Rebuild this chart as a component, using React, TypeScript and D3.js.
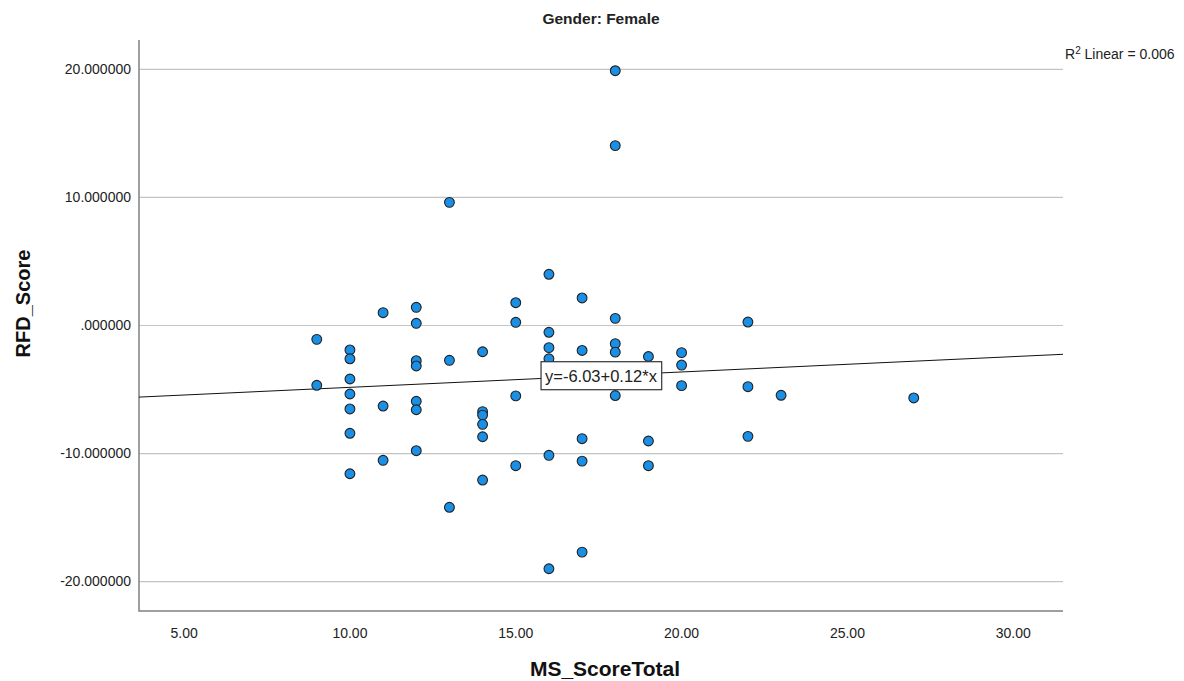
import React, { useEffect, useRef } from "react"
import * as d3 from "d3"

// MS_ScoreTotal (x) and RFD_Score (y), one entry per respondent
const msScore = [
  9, 9,
  10, 10, 10, 10, 10, 10, 10,
  11, 11, 11,
  12, 12, 12, 12, 12, 12, 12,
  13, 13, 13,
  14, 14, 14, 14, 14, 14,
  15, 15, 15, 15,
  16, 16, 16, 16, 16, 16,
  17, 17, 17, 17, 17,
  18, 18, 18, 18, 18, 18,
  19, 19, 19,
  20, 20, 20,
  22, 22, 22,
  23,
  27
]
const rfdScore = [
  -1.08, -4.67,
  -1.91, -2.6, -4.18, -5.35, -6.52, -8.42, -11.58,
  1.0, -6.29, -10.53,
  1.42, 0.17, -2.75, -3.16, -5.92, -6.58, -9.78,
  9.62, -2.72, -14.2,
  -2.05, -6.73, -7.0, -7.72, -8.69, -12.07,
  1.78, 0.25, -5.5, -10.95,
  4.0, -0.53, -1.73, -2.6, -10.14, -19.0,
  2.15, -1.95, -8.84, -10.59, -17.7,
  19.9, 14.05, 0.56, -1.42, -2.08, -5.47,
  -2.42, -9.02, -10.95,
  -2.12, -3.09, -4.7,
  0.27, -4.78, -8.66,
  -5.45,
  -5.66
]

const xTicks = [5, 10, 15, 20, 25, 30]
const xTickLabels = ["5.00", "10.00", "15.00", "20.00", "25.00", "30.00"]
const yTicks = [20, 10, 0, -10, -20]
const yTickLabels = ["20.000000", "10.000000", ".000000", "-10.000000", "-20.000000"]

// fit line y = a + b*x
const intercept = -6.03
const slope = 0.12
const fitLabel = "y=-6.03+0.12*x"
const rSquared = "0.006"

const font = "'Liberation Sans', Arial, sans-serif"

export default function App() {
  const ref = useRef<SVGSVGElement>(null)

  useEffect(() => {
    const left = 139
    const right = 1063
    const top = 40
    const bottom = 611

    const svg = d3.select(ref.current)
    svg.selectAll("*").remove()

    const x = d3.scaleLinear().domain([3.64, 31.5]).range([left, right])
    const y = d3.scaleLinear().domain([-22.3, 22.3]).range([bottom, top])

    // grid
    svg
      .append("g")
      .selectAll("line")
      .data(yTicks)
      .enter()
      .append("line")
      .attr("x1", left)
      .attr("x2", right)
      .attr("y1", d => y(d))
      .attr("y2", d => y(d))
      .attr("stroke", "#c4c4c4")
      .attr("stroke-width", 1.2)

    // axes lines
    svg
      .append("path")
      .attr("d", `M${left},${top}V${bottom}H${right}`)
      .attr("fill", "none")
      .attr("stroke", "#808080")
      .attr("stroke-width", 1.5)

    // y tick labels
    svg
      .append("g")
      .selectAll("text")
      .data(yTicks)
      .enter()
      .append("text")
      .attr("x", left - 8)
      .attr("y", d => y(d))
      .attr("dy", "0.35em")
      .attr("text-anchor", "end")
      .attr("font-family", font)
      .attr("font-size", 14)
      .attr("fill", "#222")
      .text((d, i) => yTickLabels[i])

    // x tick labels
    svg
      .append("g")
      .selectAll("text")
      .data(xTicks)
      .enter()
      .append("text")
      .attr("x", d => x(d))
      .attr("y", 638)
      .attr("text-anchor", "middle")
      .attr("font-family", font)
      .attr("font-size", 14)
      .attr("fill", "#222")
      .text((d, i) => xTickLabels[i])

    // titles
    svg
      .append("text")
      .attr("x", (left + right) / 2)
      .attr("y", 24)
      .attr("text-anchor", "middle")
      .attr("font-family", font)
      .attr("font-weight", "bold")
      .attr("font-size", 15.5)
      .attr("fill", "#222")
      .text("Gender: Female")

    svg
      .append("text")
      .attr("x", (left + right) / 2 + 4)
      .attr("y", 676)
      .attr("text-anchor", "middle")
      .attr("font-family", font)
      .attr("font-weight", "bold")
      .attr("font-size", 21)
      .attr("fill", "#111")
      .text("MS_ScoreTotal")

    svg
      .append("text")
      .attr("transform", `translate(30,${(top + bottom) / 2 - 22}) rotate(-90)`)
      .attr("text-anchor", "middle")
      .attr("font-family", font)
      .attr("font-weight", "bold")
      .attr("font-size", 20)
      .attr("fill", "#111")
      .text("RFD_Score")

    // R squared note
    const r2 = svg
      .append("text")
      .attr("x", right + 2)
      .attr("y", 59)
      .attr("font-family", font)
      .attr("font-size", 14)
      .attr("fill", "#222")
    r2.append("tspan").text("R")
    r2.append("tspan").attr("dy", -5).attr("font-size", 10).text("2")
    r2.append("tspan").attr("dy", 5).text(" Linear = " + rSquared)

    // fit line
    const xd = x.domain()
    svg
      .append("line")
      .attr("x1", x(xd[0]))
      .attr("y1", y(intercept + slope * xd[0]))
      .attr("x2", x(xd[1]))
      .attr("y2", y(intercept + slope * xd[1]))
      .attr("stroke", "#111")
      .attr("stroke-width", 1)

    // points
    svg
      .append("g")
      .selectAll("circle")
      .data(msScore)
      .enter()
      .append("circle")
      .attr("cx", d => x(d))
      .attr("cy", (d, i) => y(rfdScore[i]))
      .attr("r", 4.9)
      .attr("fill", "#1a8fe6")
      .attr("stroke", "#222")
      .attr("stroke-width", 1.1)

    // fit label box
    const midX = (xd[0] + xd[1]) / 2
    const lx = x(midX)
    const ly = y(intercept + slope * midX)
    const g = svg.append("g").attr("transform", `translate(${lx},${ly})`)
    const t = g
      .append("text")
      .attr("text-anchor", "middle")
      .attr("dy", "0.36em")
      .attr("font-family", font)
      .attr("font-size", 16.5)
      .attr("fill", "#222")
      .text(fitLabel)
    const bb = (t.node() as SVGTextElement).getBBox()
    g.insert("rect", "text")
      .attr("x", bb.x - 4)
      .attr("y", -14)
      .attr("width", bb.width + 8)
      .attr("height", 28)
      .attr("fill", "white")
      .attr("stroke", "#333")
      .attr("stroke-width", 1.2)
  }, [])

  return (
    <svg
      ref={ref}
      width={1184}
      height={681}
      style={{ position: "absolute", left: 0, top: 0, background: "white" }}
    />
  )
}
